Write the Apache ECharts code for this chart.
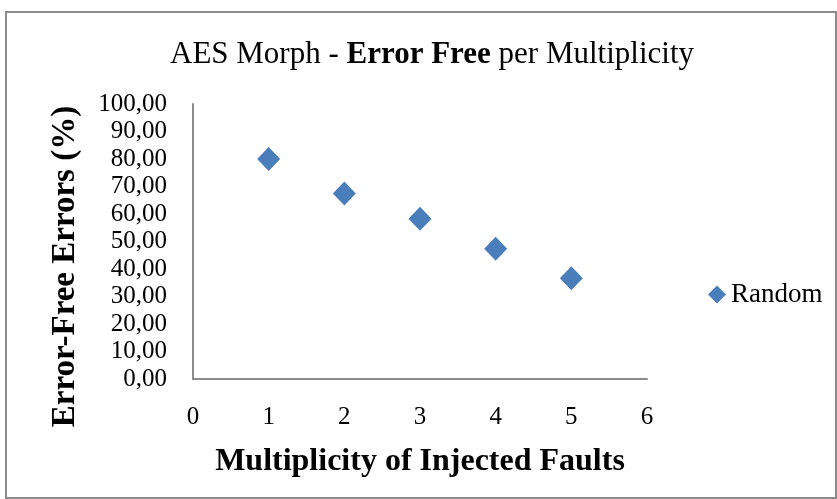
<!DOCTYPE html>
<html>
<head>
<meta charset="utf-8">
<script src="https://cdn.jsdelivr.net/npm/echarts@6/dist/echarts.min.js"></script>
<style>
  html, body { margin: 0; padding: 0; background: #fff; }
  #frame {
    position: absolute; left: 5px; top: 11px; width: 828px; height: 484px;
    border: 2px solid #8c8c8c;
  }
  #chart { position: absolute; left: 0; top: 0; width: 837px; height: 499px; }
</style>
</head>
<body>
<div id="frame"></div>
<div id="chart"></div>
<script>
// data
const multiplicity = [1, 2, 3, 4, 5]
const errorFree = [80.0, 67.5, 58.3, 47.4, 36.6]
const seriesName = 'Random'

const font = 'Liberation Serif, Times New Roman, serif'
const fmt = v => v.toFixed(2).replace('.', ',')

const chart = echarts.init(document.getElementById('chart'))
chart.setOption({
  animation: false,
  title: {
    text: '{n|AES Morph - }{b|Error Free}{n| per Multiplicity}',
    left: 427,
    textAlign: 'center',
    top: 34,
    textStyle: {
      rich: {
        n: { fontFamily: font, fontSize: 31, fontWeight: 'normal', color: '#000' },
        b: { fontFamily: font, fontSize: 31, fontWeight: 'bold', color: '#000' }
      }
    }
  },
  legend: {
    left: 703,
    top: 276,
    icon: 'diamond',
    itemWidth: 18,
    itemHeight: 18,
    itemGap: 6,
    textStyle: { fontFamily: font, fontSize: 27, color: '#000' },
    data: [seriesName]
  },
  grid: { left: 193, top: 104, right: 190, bottom: 120 },
  xAxis: {
    type: 'value',
    min: 0,
    max: 6,
    interval: 1,
    name: 'Multiplicity of Injected Faults',
    nameLocation: 'middle',
    nameGap: 67,
    nameTextStyle: { fontFamily: font, fontSize: 32, fontWeight: 'bold', color: '#000' },
    axisLine: { lineStyle: { color: '#8c8c8c', width: 2 } },
    axisTick: { show: false },
    splitLine: { show: false },
    axisLabel: { margin: 26, fontFamily: font, fontSize: 25, color: '#000' }
  },
  yAxis: {
    type: 'value',
    min: 0,
    max: 100,
    interval: 10,
    name: 'Error-Free Errors (%)',
    nameLocation: 'middle',
    nameGap: 111,
    nameRotate: 90,
    nameTextStyle: {
      fontFamily: font, fontSize: 33, fontWeight: 'bold', color: '#000',
      padding: [0, 50, 0, 0]
    },
    axisLine: { show: true, lineStyle: { color: '#8c8c8c', width: 2 } },
    axisTick: { show: false },
    splitLine: { show: false },
    axisLabel: { margin: 26, fontFamily: font, fontSize: 25, color: '#000', formatter: fmt }
  },
  series: [{
    name: seriesName,
    type: 'scatter',
    symbol: 'diamond',
    symbolSize: [23, 24],
    itemStyle: { color: '#4a7ebb', opacity: 1 },
    data: multiplicity.map((x, i) => [x, errorFree[i]])
  }]
})
</script>
</body>
</html>
